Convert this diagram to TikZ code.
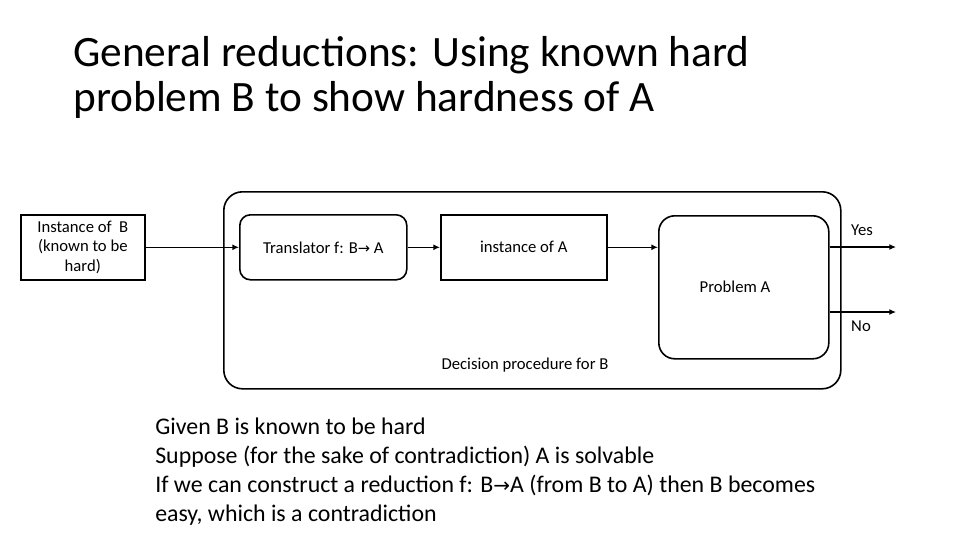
\documentclass[tikz,border=0pt]{standalone}
\usepackage{fontspec}
\setmainfont{Carlito}
\newfontfamily\arrfont{DejaVu Sans}
\usetikzlibrary{arrows.meta}
\newcommand{\rarr}{{\arrfont\fontsize{11}{11}\selectfont →}}
\begin{document}
\begin{tikzpicture}[x=0.75pt,y=-0.75pt,
  box/.style={draw,line width=1.2pt,inner sep=0pt,font=\fontsize{12.5}{14.5}\selectfont,align=center},
  lab/.style={font=\fontsize{12.5}{14.5}\selectfont,inner sep=0pt},
  arr/.style={line width=1.2pt,-{Latex[length=5pt,width=4.5pt]}}]
\useasboundingbox[fill=white] (0,0) rectangle (960,540);
\node[anchor=north west,align=left,inner sep=0pt,font=\fontsize{32.5}{34}\selectfont] (title) at (73,36) {General reductions: Using known hard\\problem B to show hardness of A};
\node[box,minimum width=93pt,minimum height=48.75pt,anchor=north west] (ib) at (20,214) {Instance of \ B\\(known to be\\hard)};
\node[box,rounded corners=14pt,minimum width=462.75pt,minimum height=147.75pt,anchor=north west] (outer) at (223,191) {};
\node[box,rounded corners=8pt,minimum width=125.25pt,minimum height=48.75pt,anchor=north west] (tr) at (239,214) {Translator f: B\rarr\ A};
\node[box,minimum width=124.5pt,minimum height=48.75pt,anchor=north west] (ia) at (440,214) {instance of A};
\node[box,rounded corners=12pt,minimum width=127.5pt,minimum height=107.25pt,anchor=north west] (pa) at (658,215) {};
\node[lab] (palab) at (735,287) {Problem A};
\node[lab] (dp) at (525,365) {Decision procedure for B};
\coordinate (yesend) at (896,247);
\coordinate (noend) at (896,312);
\draw[arr] (ib.east) -- (tr.west);
\draw[arr] (tr.east) -- (ia.west);
\draw[arr] (ia.east) -- (ia.east -| pa.west);
\draw[arr] (yesend -| pa.east) -- (yesend);
\draw[arr] (noend -| pa.east) -- (noend);
\node[lab] (yes) at (862,230) {Yes};
\node[lab] (no) at (861,326) {No};
\node[anchor=north west,align=left,inner sep=0pt,font=\fontsize{17.9}{21.75}\selectfont] (txt) at (155,418) {Given B is known to be hard\\Suppose (for the sake of contradiction) A is solvable\\If we can construct a reduction f: B{\arrfont\fontsize{15}{15}\selectfont →}A (from B to A) then B becomes\\easy, which is a contradiction};
\end{tikzpicture}
\end{document}
